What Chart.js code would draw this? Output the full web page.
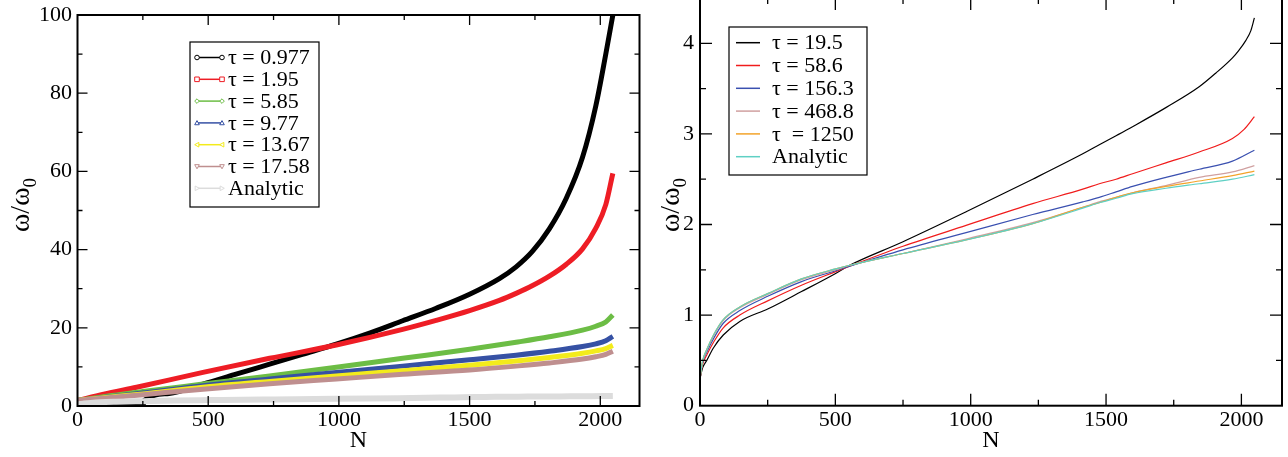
<!DOCTYPE html>
<html>
<head>
<meta charset="utf-8">
<script src="https://cdn.jsdelivr.net/npm/chart.js@4.4.1/dist/chart.umd.min.js"></script>
<style>
  html, body { margin: 0; padding: 0; background: #fff; width: 1288px; height: 457px; overflow: hidden; }
  canvas { position: absolute; }
  #left { left: 0; top: 0; }
  #right { left: 650px; top: -2px; }
</style>
</head>
<body>
<canvas id="left" width="650" height="457"></canvas>
<canvas id="right" width="638" height="459"></canvas>
<script>
// ---- Tick labels ----
const N_TICKS = [0, 500, 1000, 1500, 2000];
const LEFT_Y_TICKS = [0, 20, 40, 60, 80, 100];
const RIGHT_Y_TICKS = [0, 1, 2, 3, 4];

// ---- Left panel: frequency ratio vs N for short relaxation times ----
const N_BLACK = [0, 250, 255, 350, 480, 600, 735, 860, 990, 1120, 1244, 1372, 1500, 1614, 1678, 1741, 1805, 1869, 1932, 1983, 2021, 2048];
const TAU_0977 = [0, 0, 1.4, 3.2, 5.6, 8.0, 10.7, 13.2, 15.8, 18.7, 21.8, 25.0, 28.6, 32.6, 35.6, 39.6, 45.3, 53.0, 63.6, 76.8, 90.0, 100];
const N_RED = [0, 100, 226, 480, 735, 990, 1244, 1372, 1500, 1614, 1678, 1741, 1805, 1869, 1932, 1983, 2021, 2048];
const TAU_195 = [1.4, 3.0, 4.8, 8.6, 12.2, 15.6, 19.6, 21.9, 24.4, 27.0, 28.8, 30.8, 33.2, 36.2, 40.2, 45.5, 51.5, 59.5];
const N_LEFT = [0, 100, 250, 480, 735, 990, 1244, 1500, 1678, 1805, 1932, 1983, 2021, 2048];
const TAU_585 = [1.4, 2.4, 3.7, 5.6, 7.7, 9.9, 12.2, 14.5, 16.3, 17.7, 19.4, 20.4, 21.5, 23.3];
const TAU_977 = [1.4, 2.2, 3.3, 5.2, 6.9, 8.6, 10.2, 11.8, 13.0, 14.0, 15.2, 15.9, 16.7, 17.8];
const TAU_1367 = [1.4, 2.1, 3.1, 4.8, 6.3, 7.7, 9.0, 10.4, 11.5, 12.4, 13.5, 14.1, 14.7, 15.5];
const TAU_1758 = [1.4, 2.0, 2.9, 4.3, 5.7, 6.9, 8.1, 9.2, 10.2, 11.0, 12.0, 12.6, 13.2, 14.0];

// ---- Right panel: long relaxation times and the analytic curve ----
const N_RIGHT = [0, 10, 25, 50, 86, 147, 252, 375, 501, 553, 750, 983, 1229, 1414, 1475, 1537, 1598, 1721, 1844, 1967, 2048];
const N_R_BLACK = [0, 10, 25, 50, 86, 147, 252, 375, 501, 553, 750, 983, 1229, 1414, 1475, 1537, 1598, 1721, 1844, 1905, 1967, 1990, 2016, 2035, 2048];
const TAU_195_R = [0.3, 0.42, 0.5, 0.64, 0.78, 0.93, 1.07, 1.26, 1.46, 1.55, 1.81, 2.14, 2.50, 2.78, 2.88, 2.98, 3.08, 3.29, 3.52, 3.67, 3.84, 3.92, 4.03, 4.14, 4.28];
const N_R_RED = [0, 10, 25, 50, 86, 147, 252, 375, 501, 553, 750, 983, 1229, 1414, 1475, 1537, 1598, 1721, 1844, 1967, 2010, 2048];
const TAU_586 = [0.3, 0.46, 0.56, 0.70, 0.86, 1.00, 1.16, 1.33, 1.48, 1.54, 1.76, 1.99, 2.23, 2.39, 2.45, 2.50, 2.56, 2.68, 2.80, 2.95, 3.05, 3.19];
const TAU_1563 = [0.3, 0.48, 0.59, 0.74, 0.91, 1.05, 1.21, 1.37, 1.49, 1.54, 1.72, 1.91, 2.11, 2.25, 2.30, 2.36, 2.42, 2.52, 2.61, 2.70, 2.82];
const TAU_4688 = [0.3, 0.49, 0.61, 0.77, 0.94, 1.08, 1.23, 1.39, 1.50, 1.55, 1.68, 1.84, 2.02, 2.19, 2.25, 2.30, 2.35, 2.43, 2.52, 2.58, 2.65];
const TAU_1250 = [0.3, 0.50, 0.62, 0.78, 0.95, 1.09, 1.24, 1.40, 1.51, 1.55, 1.68, 1.83, 2.01, 2.19, 2.24, 2.30, 2.35, 2.42, 2.48, 2.54, 2.59];
const ANALYTIC = [0.3, 0.50, 0.62, 0.78, 0.95, 1.09, 1.24, 1.40, 1.51, 1.55, 1.68, 1.83, 2.01, 2.18, 2.24, 2.29, 2.34, 2.40, 2.45, 2.50, 2.55];

const LEFT_LABELS = ['τ = 0.977', 'τ = 1.95', 'τ = 5.85', 'τ = 9.77', 'τ = 13.67', 'τ = 17.58', 'Analytic'];
const RIGHT_LABELS = ['τ = 19.5', 'τ = 58.6', 'τ = 156.3', 'τ = 468.8', 'τ  = 1250', 'Analytic'];

const SERIF = '"Liberation Serif", "Times New Roman", serif';
const pts = (xs, ys) => xs.map((x, i) => ({ x, y: ys[i] }));

function marker(ctx, type, x, y, r, color) {
  ctx.beginPath();
  switch (type) {
    case 'circle': ctx.arc(x, y, r, 0, Math.PI * 2); break;
    case 'square': ctx.rect(x - r, y - r, 2 * r, 2 * r); break;
    case 'diamond': ctx.moveTo(x, y - r); ctx.lineTo(x + r, y); ctx.lineTo(x, y + r); ctx.lineTo(x - r, y); ctx.closePath(); break;
    case 'triUp': ctx.moveTo(x, y - r); ctx.lineTo(x + r, y + r * 0.8); ctx.lineTo(x - r, y + r * 0.8); ctx.closePath(); break;
    case 'triDown': ctx.moveTo(x, y + r); ctx.lineTo(x + r, y - r * 0.8); ctx.lineTo(x - r, y - r * 0.8); ctx.closePath(); break;
    case 'triLeft': ctx.moveTo(x - r, y); ctx.lineTo(x + r * 0.8, y - r); ctx.lineTo(x + r * 0.8, y + r); ctx.closePath(); break;
    case 'triRight': ctx.moveTo(x + r, y); ctx.lineTo(x - r * 0.8, y - r); ctx.lineTo(x - r * 0.8, y + r); ctx.closePath(); break;
  }
  ctx.fillStyle = '#fff';
  ctx.fill();
  ctx.strokeStyle = color;
  ctx.lineWidth = 1;
  ctx.stroke();
}

// Frame, inward ticks on all four sides, axis titles and the boxed legend
const framePlugin = {
  id: 'frame',
  afterDatasetsDraw(chart, args, o) {
    const { ctx, chartArea: a, scales: { x, y } } = chart;
    ctx.save();
    ctx.strokeStyle = '#000';
    ctx.lineWidth = o.tickWidth;
    const isMajor = (v, step) => Math.abs(v / step - Math.round(v / step)) < 1e-6;
    for (let v = x.min + o.xMinor; v <= x.max + 1e-9; v += o.xMinor) {
      const px = x.getPixelForValue(v);
      const len = isMajor(v, o.xMajor) ? o.major : o.minor;
      ctx.beginPath();
      ctx.moveTo(px, a.bottom); ctx.lineTo(px, a.bottom - len);
      ctx.moveTo(px, a.top); ctx.lineTo(px, a.top + len);
      ctx.stroke();
    }
    for (let v = y.min + o.yMinor; v <= y.max + 1e-9; v += o.yMinor) {
      const py = y.getPixelForValue(v);
      const len = isMajor(v, o.yMajor) ? o.major : o.minor;
      ctx.beginPath();
      ctx.moveTo(a.left, py); ctx.lineTo(a.left + len, py);
      ctx.moveTo(a.right, py); ctx.lineTo(a.right - len, py);
      ctx.stroke();
    }
    ctx.lineWidth = o.frameWidth;
    ctx.strokeRect(a.left, a.top, a.right - a.left, a.bottom - a.top);

    // axis titles
    ctx.fillStyle = '#000';
    ctx.textBaseline = 'alphabetic';
    ctx.font = o.xTitleSize + 'px ' + SERIF;
    ctx.textAlign = 'center';
    ctx.fillText('N', (a.left + a.right) / 2, o.xTitleY);

    ctx.save();
    ctx.translate(o.yTitleX, o.yTitleY);
    ctx.rotate(-Math.PI / 2);
    ctx.textAlign = 'left';
    const subSize = Math.round(o.titleSize * 0.68);
    ctx.font = o.titleSize + 'px ' + SERIF;
    const main = 'ω/ω';
    const w1 = ctx.measureText(main).width;
    ctx.font = subSize + 'px ' + SERIF;
    const w2 = ctx.measureText('0').width;
    const start = -(w1 + w2) / 2;
    ctx.font = o.titleSize + 'px ' + SERIF;
    ctx.fillText(main, start, 0);
    ctx.font = subSize + 'px ' + SERIF;
    ctx.fillText('0', start + w1, o.titleSize * 0.25);
    ctx.restore();

    // legend
    const L = o.legend;
    ctx.fillStyle = '#fff';
    ctx.fillRect(L.x, L.y, L.w, L.h);
    ctx.strokeStyle = '#000';
    ctx.lineWidth = 1.2;
    ctx.strokeRect(L.x, L.y, L.w, L.h);
    ctx.font = L.font + 'px ' + SERIF;
    ctx.textAlign = 'left';
    ctx.textBaseline = 'middle';
    chart.data.datasets.forEach((ds, i) => {
      const ry = L.firstRow + i * L.rowStep;
      const c = ds.borderColor;
      ctx.strokeStyle = c;
      ctx.lineWidth = L.lineWidth;
      ctx.beginPath();
      ctx.moveTo(L.lineX0, ry); ctx.lineTo(L.lineX1, ry);
      ctx.stroke();
      if (ds.legendMarker) {
        marker(ctx, ds.legendMarker, L.lineX0, ry, 2.3, c);
        marker(ctx, ds.legendMarker, L.lineX1, ry, 2.3, c);
      }
      ctx.fillStyle = '#000';
      ctx.fillText(ds.label, L.textX, ry + 1);
    });
    ctx.restore();
  }
};

function axisOpts(min, max, tickValues, fitKey, fitVal, pad) {
  return {
    type: 'linear', min, max,
    afterBuildTicks(s) { s.ticks = tickValues.map(v => ({ value: v })); },
    afterFit(s) {
      s[fitKey] = fitVal;
      s.paddingTop = 0; s.paddingBottom = 0; s.paddingLeft = 0; s.paddingRight = 0;
    },
    ticks: {
      autoSkip: false, maxRotation: 0, minRotation: 0,
      callback: v => String(v),
      padding: pad, color: '#000', font: { family: SERIF, size: 22 }
    },
    grid: { display: false, drawTicks: false },
    border: { display: false }
  };
}

function lineDs(label, data, color, width, order, extra) {
  return Object.assign({
    label, data, borderColor: color, backgroundColor: color, borderWidth: width,
    pointRadius: 0, fill: false, cubicInterpolationMode: 'monotone', order
  }, extra || {});
}

// Left chart
new Chart(document.getElementById('left'), {
  type: 'line',
  data: {
    datasets: [
      lineDs(LEFT_LABELS[0], pts(N_BLACK, TAU_0977), '#000000', 5, 7, { legendMarker: 'circle' }),
      lineDs(LEFT_LABELS[1], pts(N_RED, TAU_195), '#ee1d25', 5, 6, { legendMarker: 'square' }),
      lineDs(LEFT_LABELS[2], pts(N_LEFT, TAU_585), '#6cbd45', 5, 5, { legendMarker: 'diamond' }),
      lineDs(LEFT_LABELS[3], pts(N_LEFT, TAU_977), '#3651a4', 5, 4, { legendMarker: 'triUp' }),
      lineDs(LEFT_LABELS[4], pts(N_LEFT, TAU_1367), '#f3eb1b', 5, 3, { legendMarker: 'triLeft' }),
      lineDs(LEFT_LABELS[5], pts(N_LEFT, TAU_1758), '#bf8f8f', 5, 2, { legendMarker: 'triDown' }),
      lineDs(LEFT_LABELS[6], pts(N_RIGHT, ANALYTIC), '#dcdcdc', 6, 1, { legendMarker: 'triRight' })
    ]
  },
  options: {
    responsive: false, animation: false, devicePixelRatio: 1,
    layout: { padding: { left: 0, right: 10.5, top: 15, bottom: 0 } },
    scales: {
      x: axisOpts(0, 2150, N_TICKS, 'height', 51, 1),
      y: axisOpts(0, 100, LEFT_Y_TICKS, 'width', 77.5, 5.5)
    },
    plugins: {
      legend: { display: false }, tooltip: { enabled: false },
      frame: {
        xMajor: 500, xMinor: 250, yMajor: 20, yMinor: 10, major: 10, minor: 5,
        tickWidth: 1.3, frameWidth: 2, titleSize: 28, xTitleSize: 24, xTitleY: 447, yTitleX: 29, yTitleY: 205,
        legend: { x: 190, y: 42, w: 129, h: 165, firstRow: 57.5, rowStep: 21.8, lineX0: 197, lineX1: 222, textX: 228, font: 22, lineWidth: 1.5 }
      }
    }
  },
  plugins: [framePlugin]
});

// Right chart
new Chart(document.getElementById('right'), {
  type: 'line',
  data: {
    datasets: [
      lineDs(RIGHT_LABELS[0], pts(N_R_BLACK, TAU_195_R), '#000000', 1.2, 6),
      lineDs(RIGHT_LABELS[1], pts(N_R_RED, TAU_586), '#f01c1c', 1.2, 5),
      lineDs(RIGHT_LABELS[2], pts(N_RIGHT, TAU_1563), '#3a50b0', 1.2, 4),
      lineDs(RIGHT_LABELS[3], pts(N_RIGHT, TAU_4688), '#d0a0a0', 1.2, 3),
      lineDs(RIGHT_LABELS[4], pts(N_RIGHT, TAU_1250), '#f3a32a', 1.2, 2),
      lineDs(RIGHT_LABELS[5], pts(N_RIGHT, ANALYTIC), '#5fd0c4', 1.2, 1)
    ]
  },
  options: {
    responsive: false, animation: false, devicePixelRatio: 1,
    layout: { padding: { left: 0, right: 6, top: 0, bottom: 0 } },
    scales: {
      x: axisOpts(0, 2150, N_TICKS, 'height', 51.3, 1),
      y: axisOpts(0, 4.5, RIGHT_Y_TICKS, 'width', 50, 6)
    },
    plugins: {
      legend: { display: false }, tooltip: { enabled: false },
      frame: {
        xMajor: 500, xMinor: 250, yMajor: 1, yMinor: 0.5, major: 12, minor: 6,
        tickWidth: 1.3, frameWidth: 2, titleSize: 28, xTitleSize: 24, xTitleY: 449, yTitleX: 29, yTitleY: 207,
        legend: { x: 79, y: 29, w: 138, h: 148, firstRow: 44.7, rowStep: 22.8, lineX0: 86, lineX1: 110, textX: 122, font: 22, lineWidth: 1.5 }
      }
    }
  },
  plugins: [framePlugin]
});
</script>
</body>
</html>
